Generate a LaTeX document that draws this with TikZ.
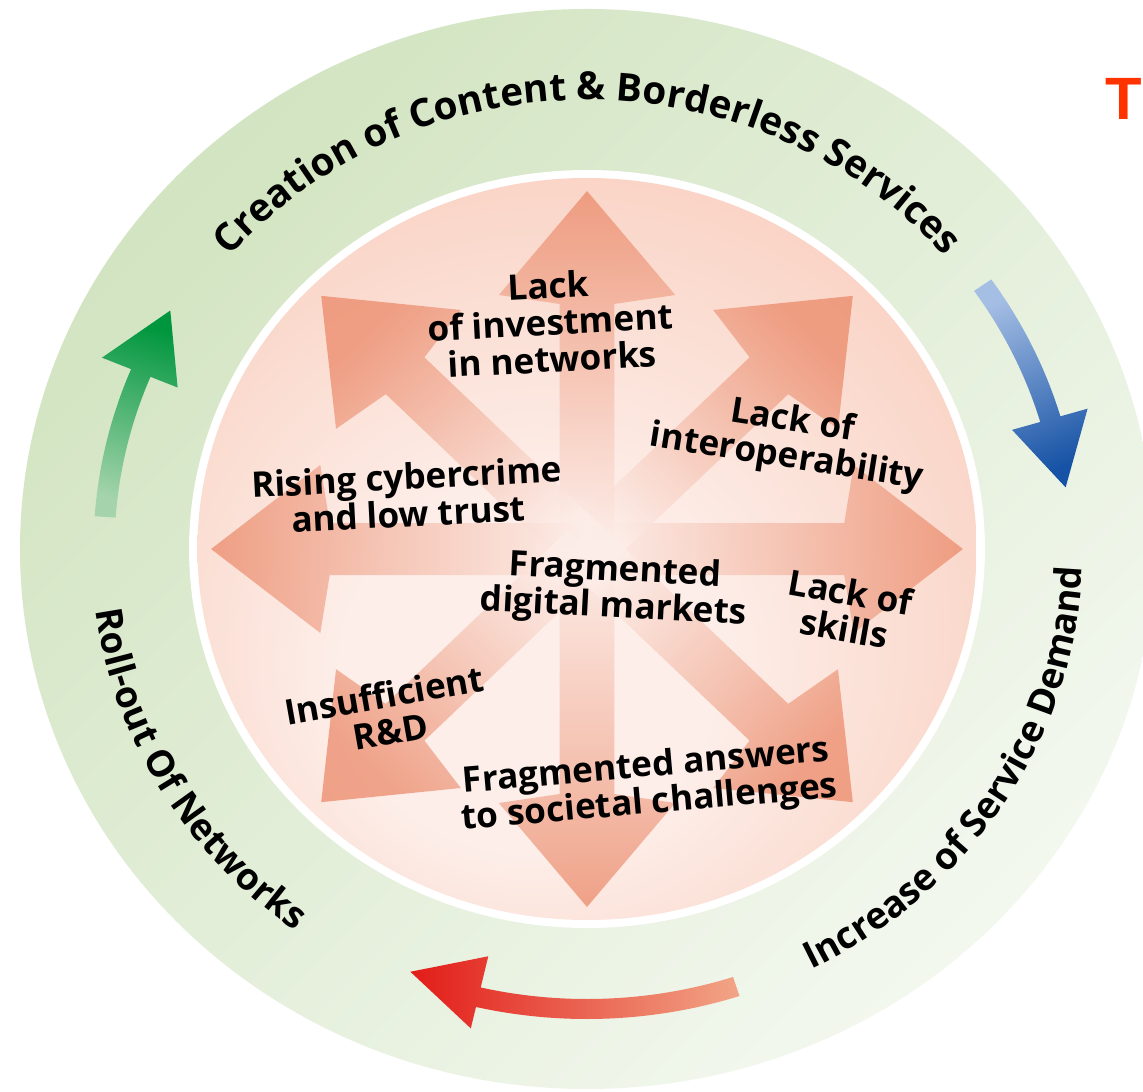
\documentclass[tikz,border=0pt]{standalone}
\usepackage{fontspec}
\setsansfont{Open Sans}
\newfontfamily\headfont{Liberation Sans}
\usetikzlibrary{decorations.text}
\definecolor{ringgreen}{RGB}{210,228,193}
\definecolor{ringpale}{RGB}{243,248,239}
\definecolor{diskedge}{RGB}{246,184,160}
\definecolor{diskcore}{RGB}{253,238,233}
\definecolor{spoketip}{RGB}{234,132,98}
\definecolor{greenhead}{RGB}{0,150,62}
\definecolor{greentail}{RGB}{165,212,172}
\definecolor{bluehead}{RGB}{22,82,165}
\definecolor{bluetail}{RGB}{165,190,228}
\definecolor{redhead}{RGB}{226,28,24}
\definecolor{redtail}{RGB}{242,165,135}
\definecolor{titlered}{RGB}{255,51,0}
\pgfdeclareradialshading{diskshade}{\pgfpoint{-5bp}{-11bp}}{color(0bp)=(diskcore); color(12bp)=(diskcore); color(50bp)=(diskedge)}

\begin{document}
\begin{tikzpicture}[x=0.01cm, y=0.01cm, xscale=1.05,
        barrier/.style={font=\sffamily\bfseries\fontsize{10}{10.5}\selectfont, align=center},
        ringtext/.style 2 args={decorate, decoration={text along path, text align=center,
            text={|\sffamily\bfseries\fontsize{#1}{13}\selectfont|#2}}}]
        \useasboundingbox (-559.05,-542) rectangle (529.52,549);
        \fill[white] (-559.05,-542) rectangle (529.52,549);
        % outer ring and inner disk
        \shade[top color=ringgreen, bottom color=ringpale, shading angle=45] (0,0) circle[radius=540];
        \fill[white] (0,0) circle[radius=379];
        \shade[shading=diskshade] (0,0) circle[radius=371];
        % the eight spokes
        \foreach \ang [evaluate=\ang as \tilt using \ang-90] in {0,45,...,315}
            \shade[rotate=\ang, top color=spoketip, bottom color=diskcore, shading angle=\tilt, fill opacity=0.7]
                (0,-26) -- (245,-26) -- (254,-84) -- (358,0) -- (254,84) -- (245,26) -- (0,26) -- cycle;
        % cycle arrows on the ring
        \shade[top color=greenhead, bottom color=greentail, shading angle=-17]
            (176:450) arc[start angle=176, end angle=157.5, radius=450] -- (157.5:422)
            -- (149:463) -- (157.5:500) -- (157.5:470) arc[start angle=157.5, end angle=176, radius=470] -- cycle;
        \shade[top color=bluetail, bottom color=bluehead, shading angle=23]
            (35:470) arc[start angle=35, end angle=16.4, radius=470] -- (16.4:497)
            -- (7.7:460) -- (16.4:422) -- (16.4:450) arc[start angle=16.4, end angle=35, radius=450] -- cycle;
        \shade[left color=redhead, right color=redtail]
            (288:470) arc[start angle=288, end angle=257, radius=470] -- (257:492)
            -- (248.3:455) -- (257:418) -- (257:450) arc[start angle=257, end angle=288, radius=450] -- cycle;
        % ring labels
        \path[ringtext={11}{Creation of Content {\&} Borderless Services}] (180:449) arc[start angle=180, end angle=0, radius=449];
        \path[ringtext={10.5}{Roll-out Of Networks}] (150:472) arc[start angle=150, end angle=270, radius=472];
        \path[ringtext={10.5}{Increase of Service Demand}] (268:472) arc[start angle=268, end angle=388, radius=472];
        % barriers
        \node[barrier, rotate=3] (investment) at (-35,227) {Lack\\of investment\\in networks};
        \node[barrier, rotate=-9] (interop) at (193,109) {Lack of\\interoperability};
        \node[barrier, rotate=3] (cybercrime) at (-171,54) {Rising cybercrime\\and low trust};
        \node[barrier, rotate=-3] (markets) at (26,-41) {Fragmented\\digital markets};
        \node[barrier, rotate=-10] (skills) at (248,-61) {Lack of\\skills};
        \node[barrier, rotate=10] (research) at (-190,-164) {Insufficient\\R\&D};
        \node[barrier, rotate=5] (answers) at (58,-237) {Fragmented answers\\to societal challenges};
        \node[font=\headfont\bfseries\fontsize{17}{17}\selectfont, text=titlered] (title) at (511,450) {T};
\end{tikzpicture}
\end{document}
